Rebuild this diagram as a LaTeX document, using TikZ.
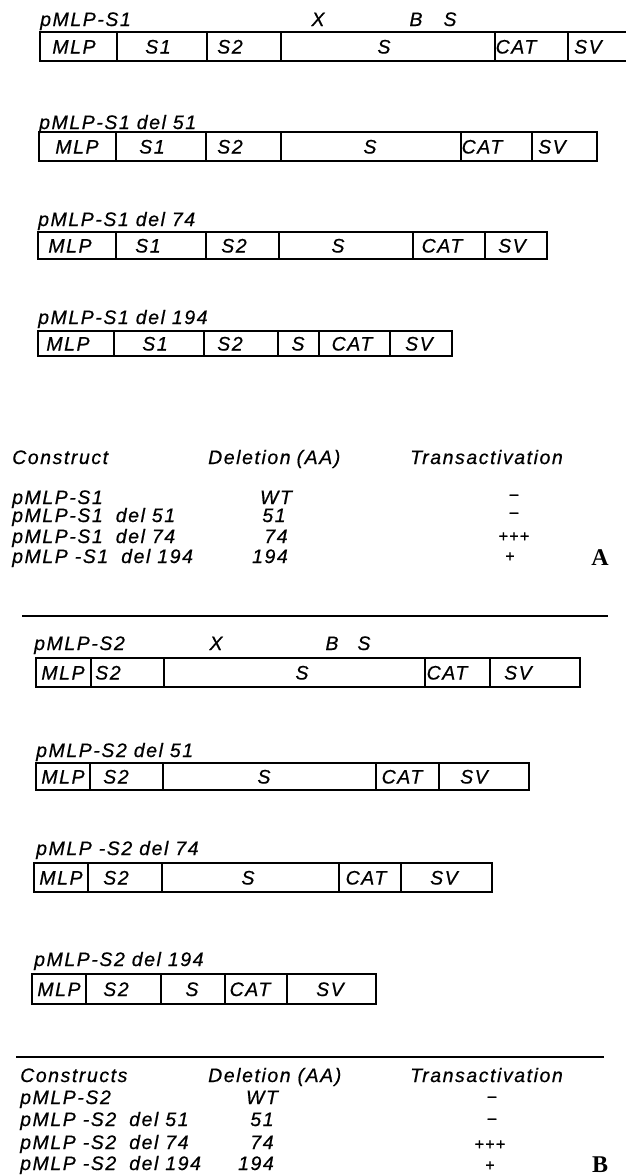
\documentclass[tikz,border=0pt]{standalone}
\usepackage{fontspec}
\newfontfamily\dinfont[LetterSpace=8,FakeBold=0.6]{Liberation Sans}
\newfontfamily\panelfont{Liberation Serif}
\begin{document}
\begin{tikzpicture}[x=1pt,y=-1pt,
  box/.style={line width=1.2pt},
  rulel/.style={line width=1.4pt},
  lab/.style={font=\dinfont\itshape\fontsize{19.5}{22}\selectfont, inner sep=0pt, anchor=base west},
  seg/.style={font=\dinfont\itshape\fontsize{19.5}{22}\selectfont, inner sep=0pt, anchor=base},
  pm/.style={font=\dinfont\fontsize{16}{17}\selectfont, inner sep=0pt, anchor=center},
  panel/.style={font=\panelfont\bfseries\fontsize{24}{26}\selectfont, inner sep=0pt, anchor=base}]
\useasboundingbox (0,0) rectangle (626,1176);
\fill[white] (0,0) rectangle (626,1176);

% ---------------- Panel A ----------------
% row A1
\node[lab] (a1l) at (40,26) {pMLP-S1};
\node[seg] (a1x) at (318,26) {X};
\node[seg] (a1b) at (416,26) {B};
\node[seg] (a1s) at (450,26) {S};
\draw[box] (626,32) -- (40,32) -- (40,61) -- (626,61);
\foreach \x in {117,207,281,495,568} \draw[box] (\x,32) -- (\x,61);
\node[seg] (a1m) at (74,53.5) {MLP};
\node[seg] (a1s1) at (158,53.5) {S1};
\node[seg] (a1s2) at (230,53.5) {S2};
\node[seg] (a1ss) at (384,53.5) {S};
\node[seg] (a1c) at (516,53.5) {CAT};
\node[seg] (a1v) at (588,53.5) {SV};

% row A2
\node[lab] (a2l) at (39,129) {pMLP-S1 del 51};
\draw[box] (39,132) rectangle (597,161);
\foreach \x in {116,206,281,461,532} \draw[box] (\x,132) -- (\x,161);
\node[seg] (a2m) at (77,153.5) {MLP};
\node[seg] (a2s1) at (152,153.5) {S1};
\node[seg] (a2s2) at (230,153.5) {S2};
\node[seg] (a2ss) at (370,153.5) {S};
\node[seg] (a2c) at (482,153.5) {CAT};
\node[seg] (a2v) at (552,153.5) {SV};

% row A3
\node[lab] (a3l) at (38,226) {pMLP-S1 del 74};
\draw[box] (38,232) rectangle (547,259);
\foreach \x in {116,206,279,413,485} \draw[box] (\x,232) -- (\x,259);
\node[seg] (a3m) at (70,252.5) {MLP};
\node[seg] (a3s1) at (148,252.5) {S1};
\node[seg] (a3s2) at (234,252.5) {S2};
\node[seg] (a3ss) at (338,252.5) {S};
\node[seg] (a3c) at (442,252.5) {CAT};
\node[seg] (a3v) at (512,252.5) {SV};

% row A4
\node[lab] (a4l) at (38,324) {pMLP-S1 del 194};
\draw[box] (38,331) rectangle (452,356);
\foreach \x in {114,204,278,319,390} \draw[box] (\x,331) -- (\x,356);
\node[seg] (a4m) at (68,350.5) {MLP};
\node[seg] (a4s1) at (155,350.5) {S1};
\node[seg] (a4s2) at (230,350.5) {S2};
\node[seg] (a4ss) at (298,350.5) {S};
\node[seg] (a4c) at (352,350.5) {CAT};
\node[seg] (a4v) at (419,350.5) {SV};

% table A
\node[lab] (tah1) at (12,464) {Construct};
\node[lab] (tah2) at (208,464) {Deletion\hspace{6pt}(AA)};
\node[lab] (tah3) at (410,464) {Transactivation};
\node[lab] (tar1) at (12,504) {pMLP-S1};
\node[lab] (tar2) at (12,522) {pMLP-S1\hspace{6pt} del 51};
\node[lab] (tar3) at (12,543) {pMLP-S1\hspace{6pt} del 74};
\node[lab] (tar4) at (12,563) {pMLP -S1\hspace{6pt} del 194};
\node[seg] (tad1) at (276,504) {WT};
\node[seg] (tad2) at (274,522) {51};
\node[seg] (tad3) at (276,543) {74};
\node[seg] (tad4) at (270,563) {194};
\node[pm] (tat1) at (514,497) {–};
\node[pm] (tat2) at (514,515) {–};
\node[pm] (tat3) at (514,537) {+++};
\node[pm] (tat4) at (510,557) {+};
\node[panel] (pa) at (600,565) {A};

\coordinate (ra1) at (22,616);
\coordinate (ra2) at (608,616);
\draw[rulel] (ra1) -- (ra2);

% ---------------- Panel B ----------------
% row B1
\node[lab] (b1l) at (34,650) {pMLP-S2};
\node[seg] (b1x) at (216,650) {X};
\node[seg] (b1b) at (332,650) {B};
\node[seg] (b1s) at (364,650) {S};
\draw[box] (36,658) rectangle (580,687);
\foreach \x in {91,164,425,490} \draw[box] (\x,658) -- (\x,687);
\node[seg] (b1m) at (63,679.5) {MLP};
\node[seg] (b1s2) at (108,679.5) {S2};
\node[seg] (b1ss) at (302,679.5) {S};
\node[seg] (b1c) at (447,679.5) {CAT};
\node[seg] (b1v) at (518,679.5) {SV};

% row B2
\node[lab] (b2l) at (36,757) {pMLP-S2 del 51};
\draw[box] (36,763) rectangle (529,790);
\foreach \x in {90,163,376,439} \draw[box] (\x,763) -- (\x,790);
\node[seg] (b2m) at (63,783.5) {MLP};
\node[seg] (b2s2) at (116,783.5) {S2};
\node[seg] (b2ss) at (264,783.5) {S};
\node[seg] (b2c) at (402,783.5) {CAT};
\node[seg] (b2v) at (474,783.5) {SV};

% row B3
\node[lab] (b3l) at (36,855) {pMLP -S2 del 74};
\draw[box] (34,863) rectangle (492,892);
\foreach \x in {88,162,339,401} \draw[box] (\x,863) -- (\x,892);
\node[seg] (b3m) at (61,884.5) {MLP};
\node[seg] (b3s2) at (116,884.5) {S2};
\node[seg] (b3ss) at (248,884.5) {S};
\node[seg] (b3c) at (366,884.5) {CAT};
\node[seg] (b3v) at (444,884.5) {SV};

% row B4
\node[lab] (b4l) at (34,966) {pMLP-S2 del 194};
\draw[box] (32,974) rectangle (376,1004);
\foreach \x in {86,161,225,287} \draw[box] (\x,974) -- (\x,1004);
\node[seg] (b4m) at (59,996) {MLP};
\node[seg] (b4s2) at (116,996) {S2};
\node[seg] (b4ss) at (192,996) {S};
\node[seg] (b4c) at (250,996) {CAT};
\node[seg] (b4v) at (330,996) {SV};

\coordinate (rb1) at (16,1057);
\coordinate (rb2) at (604,1057);
\draw[rulel] (rb1) -- (rb2);

% table B
\node[lab] (tbh1) at (20,1082) {Constructs};
\node[lab] (tbh2) at (208,1082) {Deletion (AA)};
\node[lab] (tbh3) at (410,1082) {Transactivation};
\node[lab] (tbr1) at (20,1104) {pMLP-S2};
\node[lab] (tbr2) at (20,1126) {pMLP -S2\hspace{6pt} del 51};
\node[lab] (tbr3) at (20,1149) {pMLP -S2\hspace{6pt} del 74};
\node[lab] (tbr4) at (20,1170) {pMLP -S2\hspace{6pt} del 194};
\node[seg] (tbd1) at (262,1104) {WT};
\node[seg] (tbd2) at (262,1126) {51};
\node[seg] (tbd3) at (262,1149) {74};
\node[seg] (tbd4) at (256,1170) {194};
\node[pm] (tbt1) at (492,1099) {–};
\node[pm] (tbt2) at (492,1121) {–};
\node[pm] (tbt3) at (490,1145) {+++};
\node[pm] (tbt4) at (490,1166) {+};
\node[panel] (pb) at (600,1172) {B};
\end{tikzpicture}
\end{document}
